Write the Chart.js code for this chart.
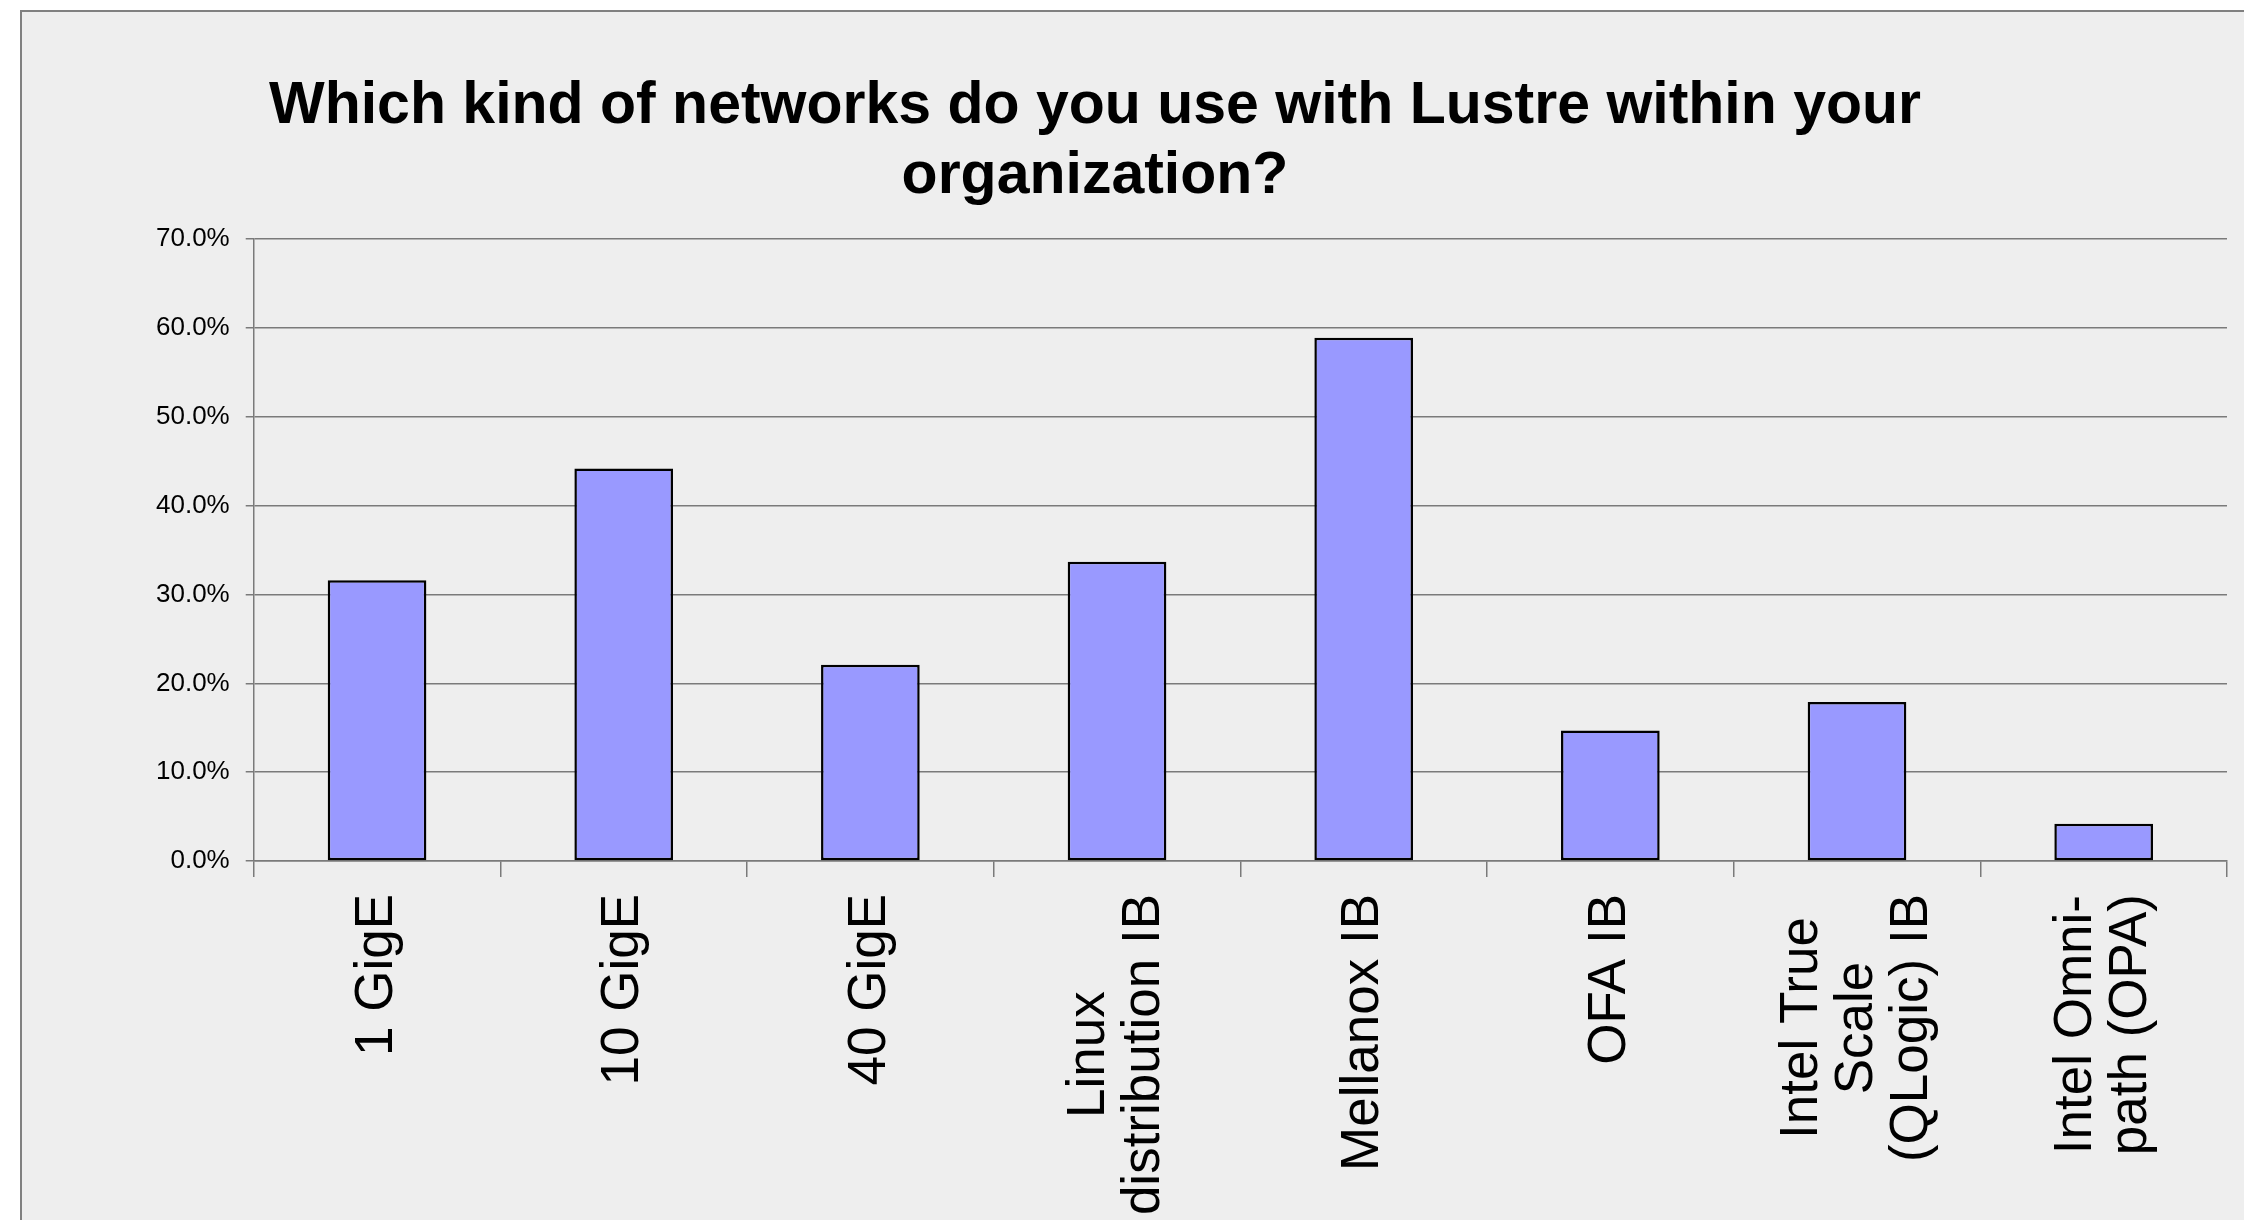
<!DOCTYPE html>
<html lang="en">
<head>
    <meta charset="UTF-8">
    <title>Lustre networks survey</title>
    <script src="https://cdn.jsdelivr.net/npm/chart.js"></script>
    <style>
        html, body { margin: 0; padding: 0; background: #fff; overflow: hidden; }
        #frame { position: absolute; left: 20px; top: 10px; width: 2400px; height: 1400px;
                 border: 2px solid #808080; background: #eeeeee; }
        #networkChart { position: absolute; left: 0; top: 0; }
    </style>
</head>
<body>
    <div id="frame"></div>
    <canvas id="networkChart" width="2244" height="1220"></canvas>

    <script>
    // data (percent of respondents)
    const categories = [
        ['1 GigE'],
        ['10 GigE'],
        ['40 GigE'],
        ['Linux', 'distribution IB'],
        ['Mellanox IB'],
        ['OFA IB'],
        ['Intel True', 'Scale', '(QLogic) IB'],
        ['Intel Omni-', 'path (OPA)']
    ];
    const shares = [31.6, 44.2, 22.1, 33.7, 58.9, 14.7, 17.9, 4.2];
    const titleLines = ['Which kind of networks do you use with Lustre within your', 'organization?'];

    const FONT = '"Liberation Sans", Arial, sans-serif';
    const axisGray = '#7a7a7a';

    // title is centred on the frame, not on the plot area
    const shiftTitle = {
        id: 'shiftTitle',
        afterLayout(chart) {
            chart.titleBlock.left = 0;
            chart.titleBlock.right = 2190;
        }
    };

    // rotated category labels, lines centred on each other
    const xLabels = {
        id: 'xLabels',
        afterDraw(chart) {
            const { ctx } = chart;
            const x = chart.scales.x;
            const lineH = 55;
            ctx.save();
            ctx.font = '53px ' + FONT;
            ctx.fillStyle = '#000';
            ctx.textAlign = 'center';
            ctx.textBaseline = 'middle';
            categories.forEach((lines, i) => {
                const px = x.getPixelForValue(i);
                const w = Math.max(...lines.map(l => ctx.measureText(l).width));
                ctx.save();
                ctx.translate(px, x.bottom + 17);
                ctx.rotate(-Math.PI / 2);
                lines.forEach((l, j) => {
                    ctx.fillText(l, -w / 2, (j - (lines.length - 1) / 2) * lineH);
                });
                ctx.restore();
            });
            ctx.restore();
        }
    };

    const ctx = document.getElementById('networkChart').getContext('2d');
    new Chart(ctx, {
        type: 'bar',
        data: {
            labels: categories,
            datasets: [{
                data: shares,
                backgroundColor: '#9999ff',
                borderColor: '#000',
                borderWidth: 2.5,
                borderSkipped: false,
                barPercentage: 0.4,
                categoryPercentage: 1
            }]
        },
        options: {
            responsive: false,
            animation: false,
            layout: { padding: { left: 140, right: 17, top: 0, bottom: 343 } },
            plugins: {
                legend: { display: false },
                tooltip: { enabled: false },
                title: {
                    display: true,
                    text: titleLines,
                    color: '#000',
                    font: { family: FONT, size: 59, weight: 'bold', lineHeight: 1.18 },
                    padding: { top: 72, bottom: 28 }
                }
            },
            scales: {
                x: {
                    ticks: { display: false },
                    grid: { drawOnChartArea: false, tickLength: 16, color: axisGray, lineWidth: 1.5 },
                    border: { color: axisGray, width: 1.5 }
                },
                y: {
                    min: 0,
                    max: 70,
                    ticks: {
                        stepSize: 10,
                        padding: 16,
                        color: '#000',
                        font: { family: FONT, size: 26 },
                        callback: v => v.toFixed(1) + '%'
                    },
                    grid: { tickLength: 8, color: axisGray, lineWidth: 1.5 },
                    border: { color: axisGray, width: 1.5 }
                }
            }
        },
        plugins: [shiftTitle, xLabels]
    });
    </script>
</body>
</html>
